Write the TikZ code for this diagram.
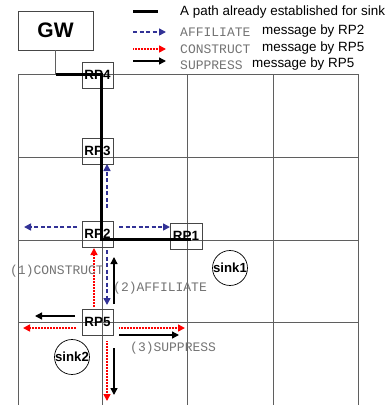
\documentclass[tikz,border=0pt]{standalone}
\usepackage{fontspec}
\setmainfont{Liberation Sans}
\newfontfamily\monof{Liberation Mono}
\usetikzlibrary{arrows.meta}
\definecolor{gridgray}{RGB}{95,95,95}
\definecolor{boxgray}{RGB}{70,70,70}
\definecolor{monogray}{RGB}{115,115,115}
\definecolor{affblue}{RGB}{50,50,150}
\definecolor{conred}{RGB}{255,0,0}
\tikzset{
  gridline/.style={draw=gridgray, line width=0.9pt},
  rpbox/.style={draw=boxgray, line width=0.8pt, rectangle, minimum width=31pt, minimum height=26pt, inner sep=0pt, font=\fontsize{13.4}{15}\selectfont\bfseries},
  sinkc/.style={draw=black, line width=0.7pt, circle, minimum size=32pt, inner sep=0pt, font=\fontsize{13.2}{15}\selectfont\bfseries},
  monolbl/.style={text=monogray, inner sep=0pt, anchor=west, font=\monof\fontsize{13}{15}\selectfont},
  sanslbl/.style={text=black, inner sep=0pt, anchor=west, font=\fontsize{13.4}{15}\selectfont},
  pathline/.style={draw=black, line width=3pt},
  affarrow/.style={draw=affblue, line width=1.6pt, dash pattern=on 4pt off 2.5pt, -{Triangle[length=7pt,width=7pt]}},
  conarrow/.style={draw=conred, line width=1.6pt, dash pattern=on 1pt off 0.5pt, -{Triangle[length=7pt,width=7pt]}},
  suparrow/.style={draw=black, line width=1.4pt, -{Triangle[length=7pt,width=7pt]}},
}
\begin{document}
\begin{tikzpicture}[x=1pt,y=-1pt]
\useasboundingbox (0,0) rectangle (389,405);
% grid
\foreach \gx in {18,102,187,273,358} \draw[gridline] (\gx,74) -- (\gx,405);
\foreach \gy in {74,157,240,322} \draw[gridline] (18,\gy) -- (358,\gy);
% GW
\node[draw=boxgray, line width=0.8pt, rectangle, minimum width=75pt, minimum height=39pt, inner sep=0pt, font=\fontsize{21}{24}\selectfont\bfseries] (GW) at (55.5,30.5) {GW};
% RP nodes
\node[rpbox] (RP4) at (97.5,75) {RP4};
\node[rpbox] (RP3) at (97.5,151) {RP3};
\node[rpbox] (RP2) at (97.5,234) {RP2};
\node[rpbox] (RP5) at (97.5,322) {RP5};
\node[rpbox, minimum width=32pt] (RP1) at (186,236) {RP1};
\node[sinkc] (sink1) at (230,268) {sink1};
\node[sinkc] (sink2) at (72,357) {sink2};
% established path
\coordinate (c1) at (GW.south |- 0,74);
\coordinate (c2) at (101,74);
\coordinate (c3) at (101,239.5);
\coordinate (c4) at (191,239.5);
\draw[gridgray, line width=0.9pt] (GW.south) -- (c1);
\draw[pathline] (c1) -- (c2) -- (c3) -- (c4);
% AFFILIATE arrows (RP2)
\coordinate (a1s) at (77,227); \coordinate (a1e) at (24,227);
\coordinate (a2s) at (119,227); \coordinate (a2e) at (170,227);
\coordinate (a3s) at (107,208); \coordinate (a3e) at (107,164);
\coordinate (a4s) at (107,250); \coordinate (a4e) at (107,305);
\draw[affarrow] (a1s) -- (a1e);
\draw[affarrow] (a2s) -- (a2e);
\draw[affarrow] (a3s) -- (a3e);
\draw[affarrow] (a4s) -- (a4e);
% CONSTRUCT arrows (RP5)
\coordinate (r1s) at (94,307); \coordinate (r1e) at (94,248);
\coordinate (r2s) at (76,328); \coordinate (r2e) at (23,328);
\coordinate (r3s) at (119,328); \coordinate (r3e) at (185,328);
\coordinate (r4s) at (107,341); \coordinate (r4e) at (107,401);
\draw[conarrow] (r1s) -- (r1e);
\draw[conarrow] (r2s) -- (r2e);
\draw[conarrow] (r3s) -- (r3e);
\draw[conarrow] (r4s) -- (r4e);
% SUPPRESS arrows (RP5)
\coordinate (s1s) at (114,304); \coordinate (s1e) at (114,257);
\coordinate (s2s) at (75,316); \coordinate (s2e) at (35,316);
\coordinate (s3s) at (119,335); \coordinate (s3e) at (179,335);
\coordinate (s4s) at (114,348); \coordinate (s4e) at (114,395);
\draw[suparrow] (s1s) -- (s1e);
\draw[suparrow] (s2s) -- (s2e);
\draw[suparrow] (s3s) -- (s3e);
\draw[suparrow] (s4s) -- (s4e);
% labels
\node[monolbl] (l1) at (10,271) {(1)CONSTRUCT};
\node[monolbl] (l2) at (113,288) {(2)AFFILIATE};
\node[monolbl] (l3) at (130,348) {(3)SUPPRESS};
% legend
\coordinate (k1s) at (133,11); \coordinate (k1e) at (158,11);
\draw[pathline] (k1s) -- (k1e);
\node[sanslbl] (t1) at (180,12) {A path already established for sink};
\coordinate (k2s) at (133,32); \coordinate (k2e) at (166,32);
\draw[affarrow] (k2s) -- (k2e);
\node[monolbl] (t2a) at (180,32) {AFFILIATE};
\node[sanslbl] (t2b) at (262,31) {message by RP2};
\coordinate (k3s) at (133,49); \coordinate (k3e) at (166,49);
\draw[conarrow] (k3s) -- (k3e);
\node[monolbl] (t3a) at (180,49) {CONSTRUCT};
\node[sanslbl] (t3b) at (262,48) {message by RP5};
\coordinate (k4s) at (133,61); \coordinate (k4e) at (166,61);
\draw[suparrow] (k4s) -- (k4e);
\node[monolbl] (t4a) at (180,65) {SUPPRESS};
\node[sanslbl] (t4b) at (252,64) {message by RP5};
\end{tikzpicture}
\end{document}
